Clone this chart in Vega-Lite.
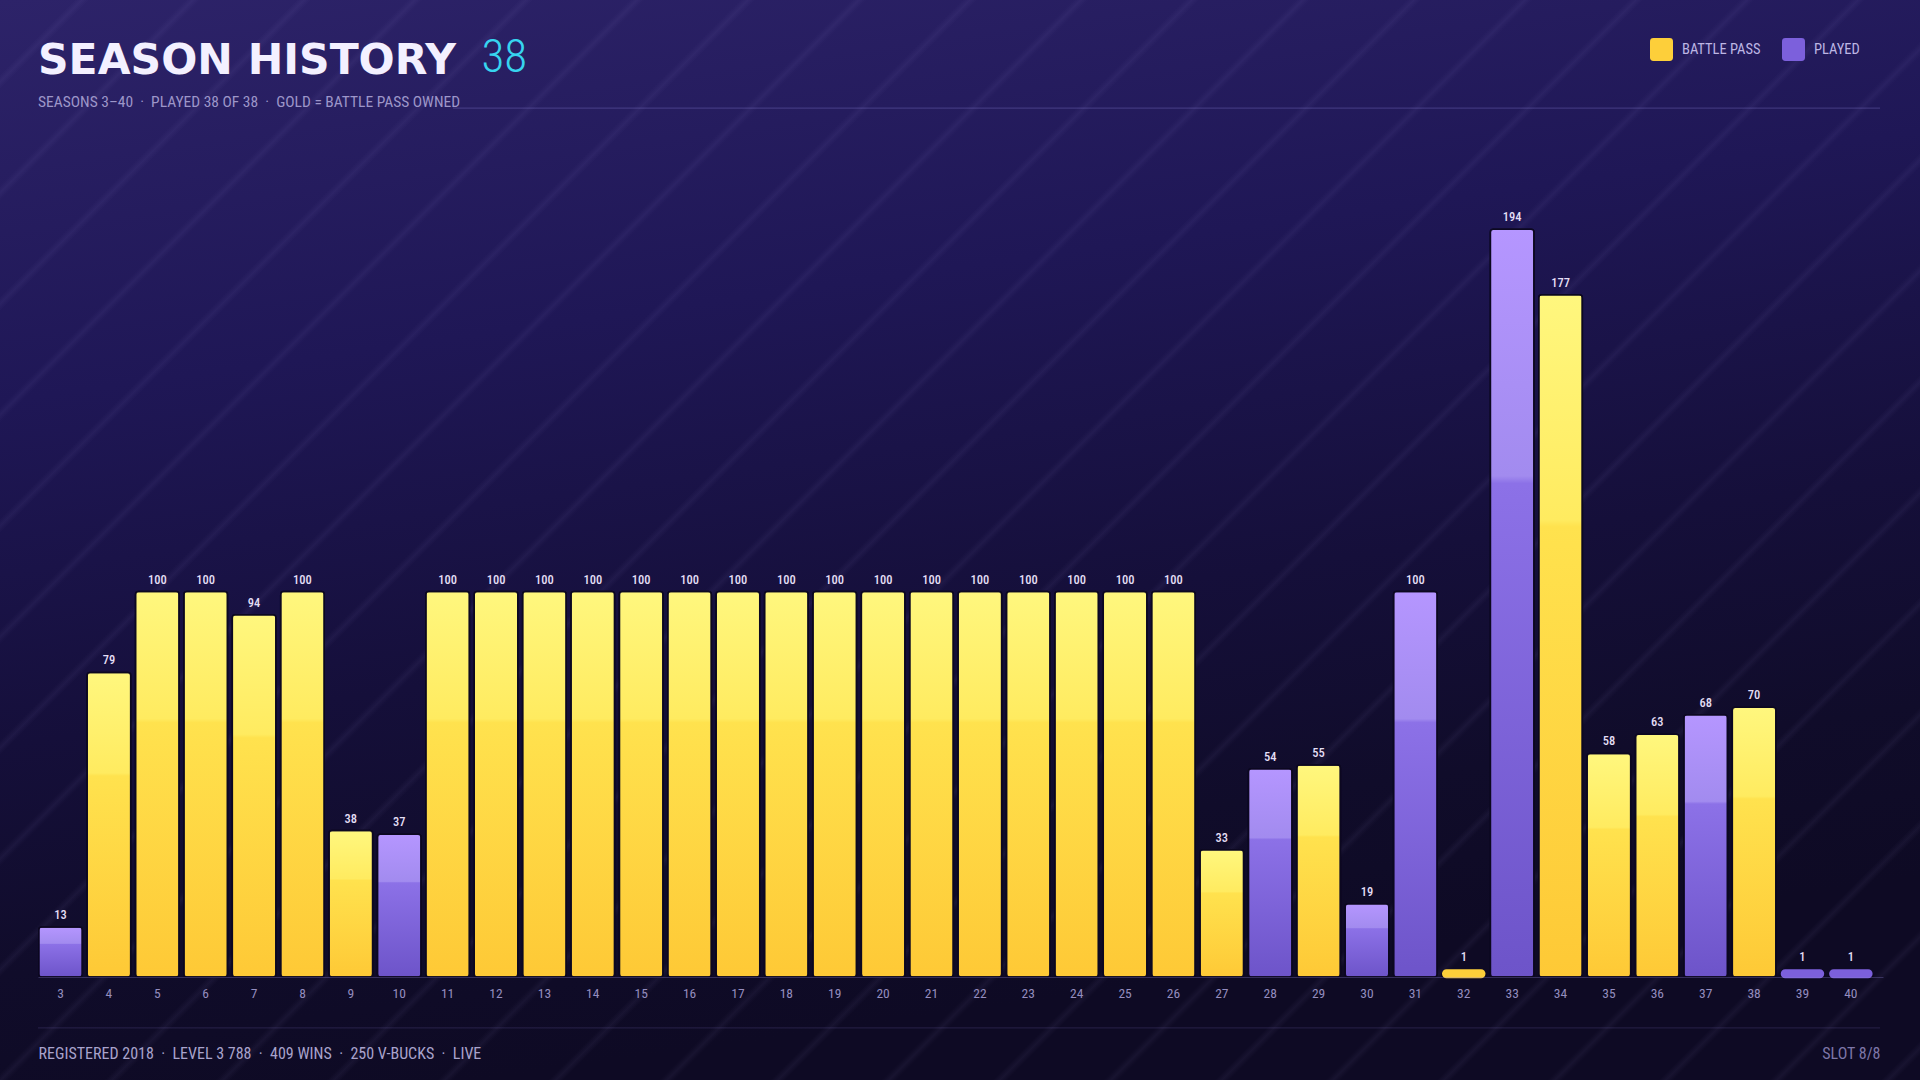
{
  "$schema": "https://vega.github.io/schema/vega-lite/v6.json",
  "description": "Season history bars, gold = battle pass owned, purple = played only.",
  "width": 1920,
  "height": 1080,
  "autosize": "none",
  "padding": 0,
  "background": "#1a1348",
  "config": {
    "view": {"stroke": null},
    "font": "Roboto Condensed, Liberation Sans Narrow, DejaVu Sans Condensed, Roboto, sans-serif",
    "axis": {"zindex": 1}
  },
  "title": {
    "text": "SEASON HISTORY",
    "subtitle": "SEASONS 3\u201340 \u00a0\u00b7\u00a0 PLAYED 38 OF 38 \u00a0\u00b7\u00a0 GOLD = BATTLE PASS OWNED",
    "anchor": "start",
    "frame": "group",
    "orient": "top",
    "offset": -110,
    "dx": 38,
    "font": "DejaVu Sans",
    "fontSize": 42.5,
    "fontWeight": "bold",
    "color": "#f3f0ff",
    "subtitleFont": "Roboto Condensed, Liberation Sans Narrow, DejaVu Sans Condensed, Roboto, sans-serif",
    "subtitleFontSize": 15.5,
    "subtitleColor": "#9d96c9",
    "subtitlePadding": 12
  },
  "datasets": {
    "seasons": [
      {"season": 3, "level": 13, "status": "PLAYED"},
      {"season": 4, "level": 79, "status": "BATTLE PASS"},
      {"season": 5, "level": 100, "status": "BATTLE PASS"},
      {"season": 6, "level": 100, "status": "BATTLE PASS"},
      {"season": 7, "level": 94, "status": "BATTLE PASS"},
      {"season": 8, "level": 100, "status": "BATTLE PASS"},
      {"season": 9, "level": 38, "status": "BATTLE PASS"},
      {"season": 10, "level": 37, "status": "PLAYED"},
      {"season": 11, "level": 100, "status": "BATTLE PASS"},
      {"season": 12, "level": 100, "status": "BATTLE PASS"},
      {"season": 13, "level": 100, "status": "BATTLE PASS"},
      {"season": 14, "level": 100, "status": "BATTLE PASS"},
      {"season": 15, "level": 100, "status": "BATTLE PASS"},
      {"season": 16, "level": 100, "status": "BATTLE PASS"},
      {"season": 17, "level": 100, "status": "BATTLE PASS"},
      {"season": 18, "level": 100, "status": "BATTLE PASS"},
      {"season": 19, "level": 100, "status": "BATTLE PASS"},
      {"season": 20, "level": 100, "status": "BATTLE PASS"},
      {"season": 21, "level": 100, "status": "BATTLE PASS"},
      {"season": 22, "level": 100, "status": "BATTLE PASS"},
      {"season": 23, "level": 100, "status": "BATTLE PASS"},
      {"season": 24, "level": 100, "status": "BATTLE PASS"},
      {"season": 25, "level": 100, "status": "BATTLE PASS"},
      {"season": 26, "level": 100, "status": "BATTLE PASS"},
      {"season": 27, "level": 33, "status": "BATTLE PASS"},
      {"season": 28, "level": 54, "status": "PLAYED"},
      {"season": 29, "level": 55, "status": "BATTLE PASS"},
      {"season": 30, "level": 19, "status": "PLAYED"},
      {"season": 31, "level": 100, "status": "PLAYED"},
      {"season": 32, "level": 1, "status": "BATTLE PASS"},
      {"season": 33, "level": 194, "status": "PLAYED"},
      {"season": 34, "level": 177, "status": "BATTLE PASS"},
      {"season": 35, "level": 58, "status": "BATTLE PASS"},
      {"season": 36, "level": 63, "status": "BATTLE PASS"},
      {"season": 37, "level": 68, "status": "PLAYED"},
      {"season": 38, "level": 70, "status": "BATTLE PASS"},
      {"season": 39, "level": 1, "status": "PLAYED"},
      {"season": 40, "level": 1, "status": "PLAYED"}
    ]
  },
  "layer": [
    {
      "data": {"values": [{}]},
      "mark": {
        "type": "rect",
        "strokeWidth": 0,
        "fill": {
          "gradient": "linear",
          "x1": 0, "y1": 0, "x2": 0.25, "y2": 1,
          "stops": [
            {"offset": 0, "color": "#2d2369"},
            {"offset": 0.35, "color": "#1f1756"},
            {"offset": 0.65, "color": "#150f3a"},
            {"offset": 0.85, "color": "#100c2a"},
            {"offset": 1, "color": "#0e0a24"}
          ]
        }
      },
      "encoding": {}
    },
    {
      "data": {"values": [{}]},
      "mark": {
        "type": "rect",
        "strokeWidth": 0,
        "fill": {
          "gradient": "linear",
          "x1": 0, "y1": 0, "x2": 1.187, "y2": 0.6677,
          "stops": [
            {"offset": 0.0248, "color": "rgba(190,175,255,0)"}, {"offset": 0.0273, "color": "rgba(190,175,255,0.055)"}, {"offset": 0.0298, "color": "rgba(190,175,255,0)"},
            {"offset": 0.0618, "color": "rgba(190,175,255,0)"}, {"offset": 0.0643, "color": "rgba(190,175,255,0.055)"}, {"offset": 0.0668, "color": "rgba(190,175,255,0)"},
            {"offset": 0.0988, "color": "rgba(190,175,255,0)"}, {"offset": 0.1013, "color": "rgba(190,175,255,0.055)"}, {"offset": 0.1038, "color": "rgba(190,175,255,0)"},
            {"offset": 0.1358, "color": "rgba(190,175,255,0)"}, {"offset": 0.1383, "color": "rgba(190,175,255,0.055)"}, {"offset": 0.1408, "color": "rgba(190,175,255,0)"},
            {"offset": 0.1728, "color": "rgba(190,175,255,0)"}, {"offset": 0.1753, "color": "rgba(190,175,255,0.055)"}, {"offset": 0.1778, "color": "rgba(190,175,255,0)"},
            {"offset": 0.2098, "color": "rgba(190,175,255,0)"}, {"offset": 0.2123, "color": "rgba(190,175,255,0.055)"}, {"offset": 0.2148, "color": "rgba(190,175,255,0)"},
            {"offset": 0.2468, "color": "rgba(190,175,255,0)"}, {"offset": 0.2493, "color": "rgba(190,175,255,0.055)"}, {"offset": 0.2518, "color": "rgba(190,175,255,0)"},
            {"offset": 0.2838, "color": "rgba(190,175,255,0)"}, {"offset": 0.2863, "color": "rgba(190,175,255,0.055)"}, {"offset": 0.2888, "color": "rgba(190,175,255,0)"},
            {"offset": 0.3208, "color": "rgba(190,175,255,0)"}, {"offset": 0.3233, "color": "rgba(190,175,255,0.055)"}, {"offset": 0.3258, "color": "rgba(190,175,255,0)"},
            {"offset": 0.3578, "color": "rgba(190,175,255,0)"}, {"offset": 0.3603, "color": "rgba(190,175,255,0.055)"}, {"offset": 0.3628, "color": "rgba(190,175,255,0)"},
            {"offset": 0.3948, "color": "rgba(190,175,255,0)"}, {"offset": 0.3973, "color": "rgba(190,175,255,0.055)"}, {"offset": 0.3998, "color": "rgba(190,175,255,0)"},
            {"offset": 0.4318, "color": "rgba(190,175,255,0)"}, {"offset": 0.4343, "color": "rgba(190,175,255,0.055)"}, {"offset": 0.4368, "color": "rgba(190,175,255,0)"},
            {"offset": 0.4688, "color": "rgba(190,175,255,0)"}, {"offset": 0.4713, "color": "rgba(190,175,255,0.055)"}, {"offset": 0.4738, "color": "rgba(190,175,255,0)"},
            {"offset": 0.5058, "color": "rgba(190,175,255,0)"}, {"offset": 0.5083, "color": "rgba(190,175,255,0.055)"}, {"offset": 0.5108, "color": "rgba(190,175,255,0)"},
            {"offset": 0.5428, "color": "rgba(190,175,255,0)"}, {"offset": 0.5453, "color": "rgba(190,175,255,0.055)"}, {"offset": 0.5478, "color": "rgba(190,175,255,0)"},
            {"offset": 0.5798, "color": "rgba(190,175,255,0)"}, {"offset": 0.5823, "color": "rgba(190,175,255,0.055)"}, {"offset": 0.5848, "color": "rgba(190,175,255,0)"},
            {"offset": 0.6168, "color": "rgba(190,175,255,0)"}, {"offset": 0.6193, "color": "rgba(190,175,255,0.055)"}, {"offset": 0.6218, "color": "rgba(190,175,255,0)"},
            {"offset": 0.6538, "color": "rgba(190,175,255,0)"}, {"offset": 0.6563, "color": "rgba(190,175,255,0.055)"}, {"offset": 0.6588, "color": "rgba(190,175,255,0)"},
            {"offset": 0.6908, "color": "rgba(190,175,255,0)"}, {"offset": 0.6933, "color": "rgba(190,175,255,0.055)"}, {"offset": 0.6958, "color": "rgba(190,175,255,0)"},
            {"offset": 0.7278, "color": "rgba(190,175,255,0)"}, {"offset": 0.7303, "color": "rgba(190,175,255,0.055)"}, {"offset": 0.7328, "color": "rgba(190,175,255,0)"},
            {"offset": 0.7648, "color": "rgba(190,175,255,0)"}, {"offset": 0.7673, "color": "rgba(190,175,255,0.055)"}, {"offset": 0.7698, "color": "rgba(190,175,255,0)"},
            {"offset": 0.8018, "color": "rgba(190,175,255,0)"}, {"offset": 0.8043, "color": "rgba(190,175,255,0.055)"}, {"offset": 0.8068, "color": "rgba(190,175,255,0)"},
            {"offset": 0.8388, "color": "rgba(190,175,255,0)"}, {"offset": 0.8413, "color": "rgba(190,175,255,0.055)"}, {"offset": 0.8438, "color": "rgba(190,175,255,0)"},
            {"offset": 0.8758, "color": "rgba(190,175,255,0)"}, {"offset": 0.8783, "color": "rgba(190,175,255,0.055)"}, {"offset": 0.8808, "color": "rgba(190,175,255,0)"},
            {"offset": 0.9128, "color": "rgba(190,175,255,0)"}, {"offset": 0.9153, "color": "rgba(190,175,255,0.055)"}, {"offset": 0.9178, "color": "rgba(190,175,255,0)"},
            {"offset": 0.9498, "color": "rgba(190,175,255,0)"}, {"offset": 0.9523, "color": "rgba(190,175,255,0.055)"}, {"offset": 0.9548, "color": "rgba(190,175,255,0)"},
            {"offset": 0.9868, "color": "rgba(190,175,255,0)"}, {"offset": 0.9893, "color": "rgba(190,175,255,0.055)"}, {"offset": 0.9918, "color": "rgba(190,175,255,0)"}
          ]
        }
      },
      "encoding": {}
    },
    {
      "data": {"values": [{}]},
      "mark": {"type": "rule", "stroke": "#8d84d8", "strokeOpacity": 0.28, "strokeWidth": 1.2, "strokeDash": [0, 40, 1427, 453]},
      "encoding": {
        "y": {"datum": 225.4, "type": "quantitative", "axis": null, "scale": {"domain": [-26.72, 253.44], "zero": false, "nice": false}}
      }
    },
    {
      "data": {"values": [{}]},
      "mark": {"type": "rule", "stroke": "#8d84d8", "strokeOpacity": 0.16, "strokeWidth": 1.2, "strokeDash": [0, 40, 1842, 38]},
      "encoding": {
        "y": {"datum": -13.2, "type": "quantitative", "axis": null, "scale": {"domain": [-26.72, 253.44], "zero": false, "nice": false}}
      }
    },
    {
      "data": {"name": "seasons"},
      "mark": {"type": "bar", "cornerRadius": 3, "stroke": "#0c0820", "strokeWidth": 1.5},
      "encoding": {
        "x": {
          "field": "season",
          "type": "ordinal",
          "scale": {"paddingInner": 0.1, "paddingOuter": 0.89, "align": 0.45},
          "axis": {
            "orient": "bottom",
            "offset": -103,
            "zindex": 1,
            "domain": true,
            "domainColor": "#8d84d8",
            "domainOpacity": 0.3,
            "domainDash": [0, 38, 1845, 100],
            "ticks": false,
            "grid": false,
            "labelAngle": 0,
            "labelPadding": 9,
            "labelFontSize": 13.5,
            "labelColor": "#948dbf",
            "title": "REGISTERED 2018 \u00a0\u00b7\u00a0 LEVEL 3 788 \u00a0\u00b7\u00a0 409 WINS \u00a0\u00b7\u00a0 250 V-BUCKS \u00a0\u00b7\u00a0 LIVE",
            "titleX": 38,
            "titleY": 76,
            "titleAngle": 0,
            "titleAlign": "left",
            "titleBaseline": "middle",
            "titleFontSize": 16,
            "titleFontWeight": "normal",
            "titleColor": "#a9a3cc"
          }
        },
        "y": {
          "field": "level",
          "type": "quantitative",
          "axis": null,
          "scale": {"domain": [-26.72, 253.44], "zero": false, "nice": false}
        },
        "color": {
          "field": "status",
          "type": "nominal",
          "scale": {"domain": ["BATTLE PASS", "PLAYED"], "range": ["#fdcf3a", "#7c60dc"]},
          "legend": {
            "orient": "none",
            "legendX": 1650,
            "legendY": 38,
            "direction": "horizontal",
            "title": null,
            "symbolType": "M -0.7,-1 H 0.7 Q 1,-1 1,-0.7 V 0.7 Q 1,1 0.7,1 H -0.7 Q -1,1 -1,0.7 V -0.7 Q -1,-1 -0.7,-1 Z",
            "symbolSize": 529,
            "symbolStrokeWidth": 0,
            "labelOffset": 9,
            "columnPadding": 21,
            "labelFontSize": 14.5,
            "labelColor": "#bdb6e4"
          }
        }
      }
    },
    {
      "data": {"name": "seasons"},
      "transform": [{"filter": "datum.status === 'BATTLE PASS'"}],
      "mark": {
        "type": "bar", "cornerRadius": 3, "stroke": "#0c0820", "strokeWidth": 1.5,
        "fill": {
          "gradient": "linear", "x1": 0, "y1": 0, "x2": 0, "y2": 1,
          "stops": [
            {"offset": 0, "color": "#fff77e"},
            {"offset": 0.33, "color": "#ffeb60"},
            {"offset": 0.34, "color": "#ffe24e"},
            {"offset": 1, "color": "#fec936"}
          ]
        }
      },
      "encoding": {
        "x": {
          "field": "season",
          "type": "ordinal",
          "scale": {"paddingInner": 0.1, "paddingOuter": 0.89, "align": 0.45},
          "axis": {
            "orient": "bottom",
            "offset": -103,
            "zindex": 1,
            "domain": false,
            "ticks": false,
            "labels": false,
            "grid": false,
            "title": "SLOT 8/8",
            "titleX": 1880,
            "titleY": 76,
            "titleAngle": 0,
            "titleAlign": "right",
            "titleBaseline": "middle",
            "titleFontSize": 16,
            "titleFontWeight": "normal",
            "titleColor": "#7e77a9"
          }
        },
        "y": {"field": "level", "type": "quantitative", "axis": null, "scale": {"domain": [-26.72, 253.44], "zero": false, "nice": false}}
      }
    },
    {
      "data": {"name": "seasons"},
      "transform": [{"filter": "datum.status === 'PLAYED'"}],
      "mark": {
        "type": "bar", "cornerRadius": 3, "stroke": "#0c0820", "strokeWidth": 1.5,
        "fill": {
          "gradient": "linear", "x1": 0, "y1": 0, "x2": 0, "y2": 1,
          "stops": [
            {"offset": 0, "color": "#b596ff"},
            {"offset": 0.33, "color": "#a28bef"},
            {"offset": 0.34, "color": "#8c71e7"},
            {"offset": 1, "color": "#6d54c9"}
          ]
        }
      },
      "encoding": {
        "x": {"field": "season", "type": "ordinal", "axis": null, "scale": {"paddingInner": 0.1, "paddingOuter": 0.89, "align": 0.45}},
        "y": {"field": "level", "type": "quantitative", "axis": null, "scale": {"domain": [-26.72, 253.44], "zero": false, "nice": false}}
      }
    },
    {
      "data": {"name": "seasons"},
      "transform": [{"filter": "datum.level < 2"}],
      "mark": {"type": "tick", "orient": "horizontal", "thickness": 9, "size": 43.5, "cornerRadius": 4.5, "opacity": 1, "yOffset": 0.5},
      "encoding": {
        "x": {"field": "season", "type": "ordinal", "axis": null, "scale": {"paddingInner": 0.1, "paddingOuter": 0.89, "align": 0.45}},
        "y": {"field": "level", "type": "quantitative", "axis": null, "scale": {"domain": [-26.72, 253.44], "zero": false, "nice": false}},
        "color": {"field": "status", "type": "nominal", "legend": null, "scale": {"domain": ["BATTLE PASS", "PLAYED"], "range": ["#fdcf3a", "#7c60dc"]}}
      }
    },
    {
      "data": {"name": "seasons"},
      "mark": {"type": "text", "baseline": "bottom", "dy": {"expr": "datum.level < 2 ? -9.5 : -5"}, "fontSize": 12.5, "fontWeight": 500, "color": "#e4dff5"},
      "encoding": {
        "x": {
          "field": "season",
          "type": "ordinal",
          "scale": {"paddingInner": 0.1, "paddingOuter": 0.89, "align": 0.45},
          "axis": {
            "orient": "top",
            "zindex": 1,
            "domain": false,
            "ticks": false,
            "labels": false,
            "grid": false,
            "title": "38",
            "titleX": 481,
            "titleY": 71,
            "titleAngle": 0,
            "titleAlign": "left",
            "titleBaseline": "alphabetic",
            "titleFontSize": 47,
            "titleFontWeight": 300,
            "titleColor": "#37d4ef"
          }
        },
        "y": {
          "field": "level",
          "type": "quantitative",
          "axis": null,
          "scale": {"domain": [-26.72, 253.44], "zero": false, "nice": false}
        },
        "text": {"field": "level", "type": "quantitative"}
      }
    }
  ],
  "resolve": {"axis": {"x": "independent"}}
}
